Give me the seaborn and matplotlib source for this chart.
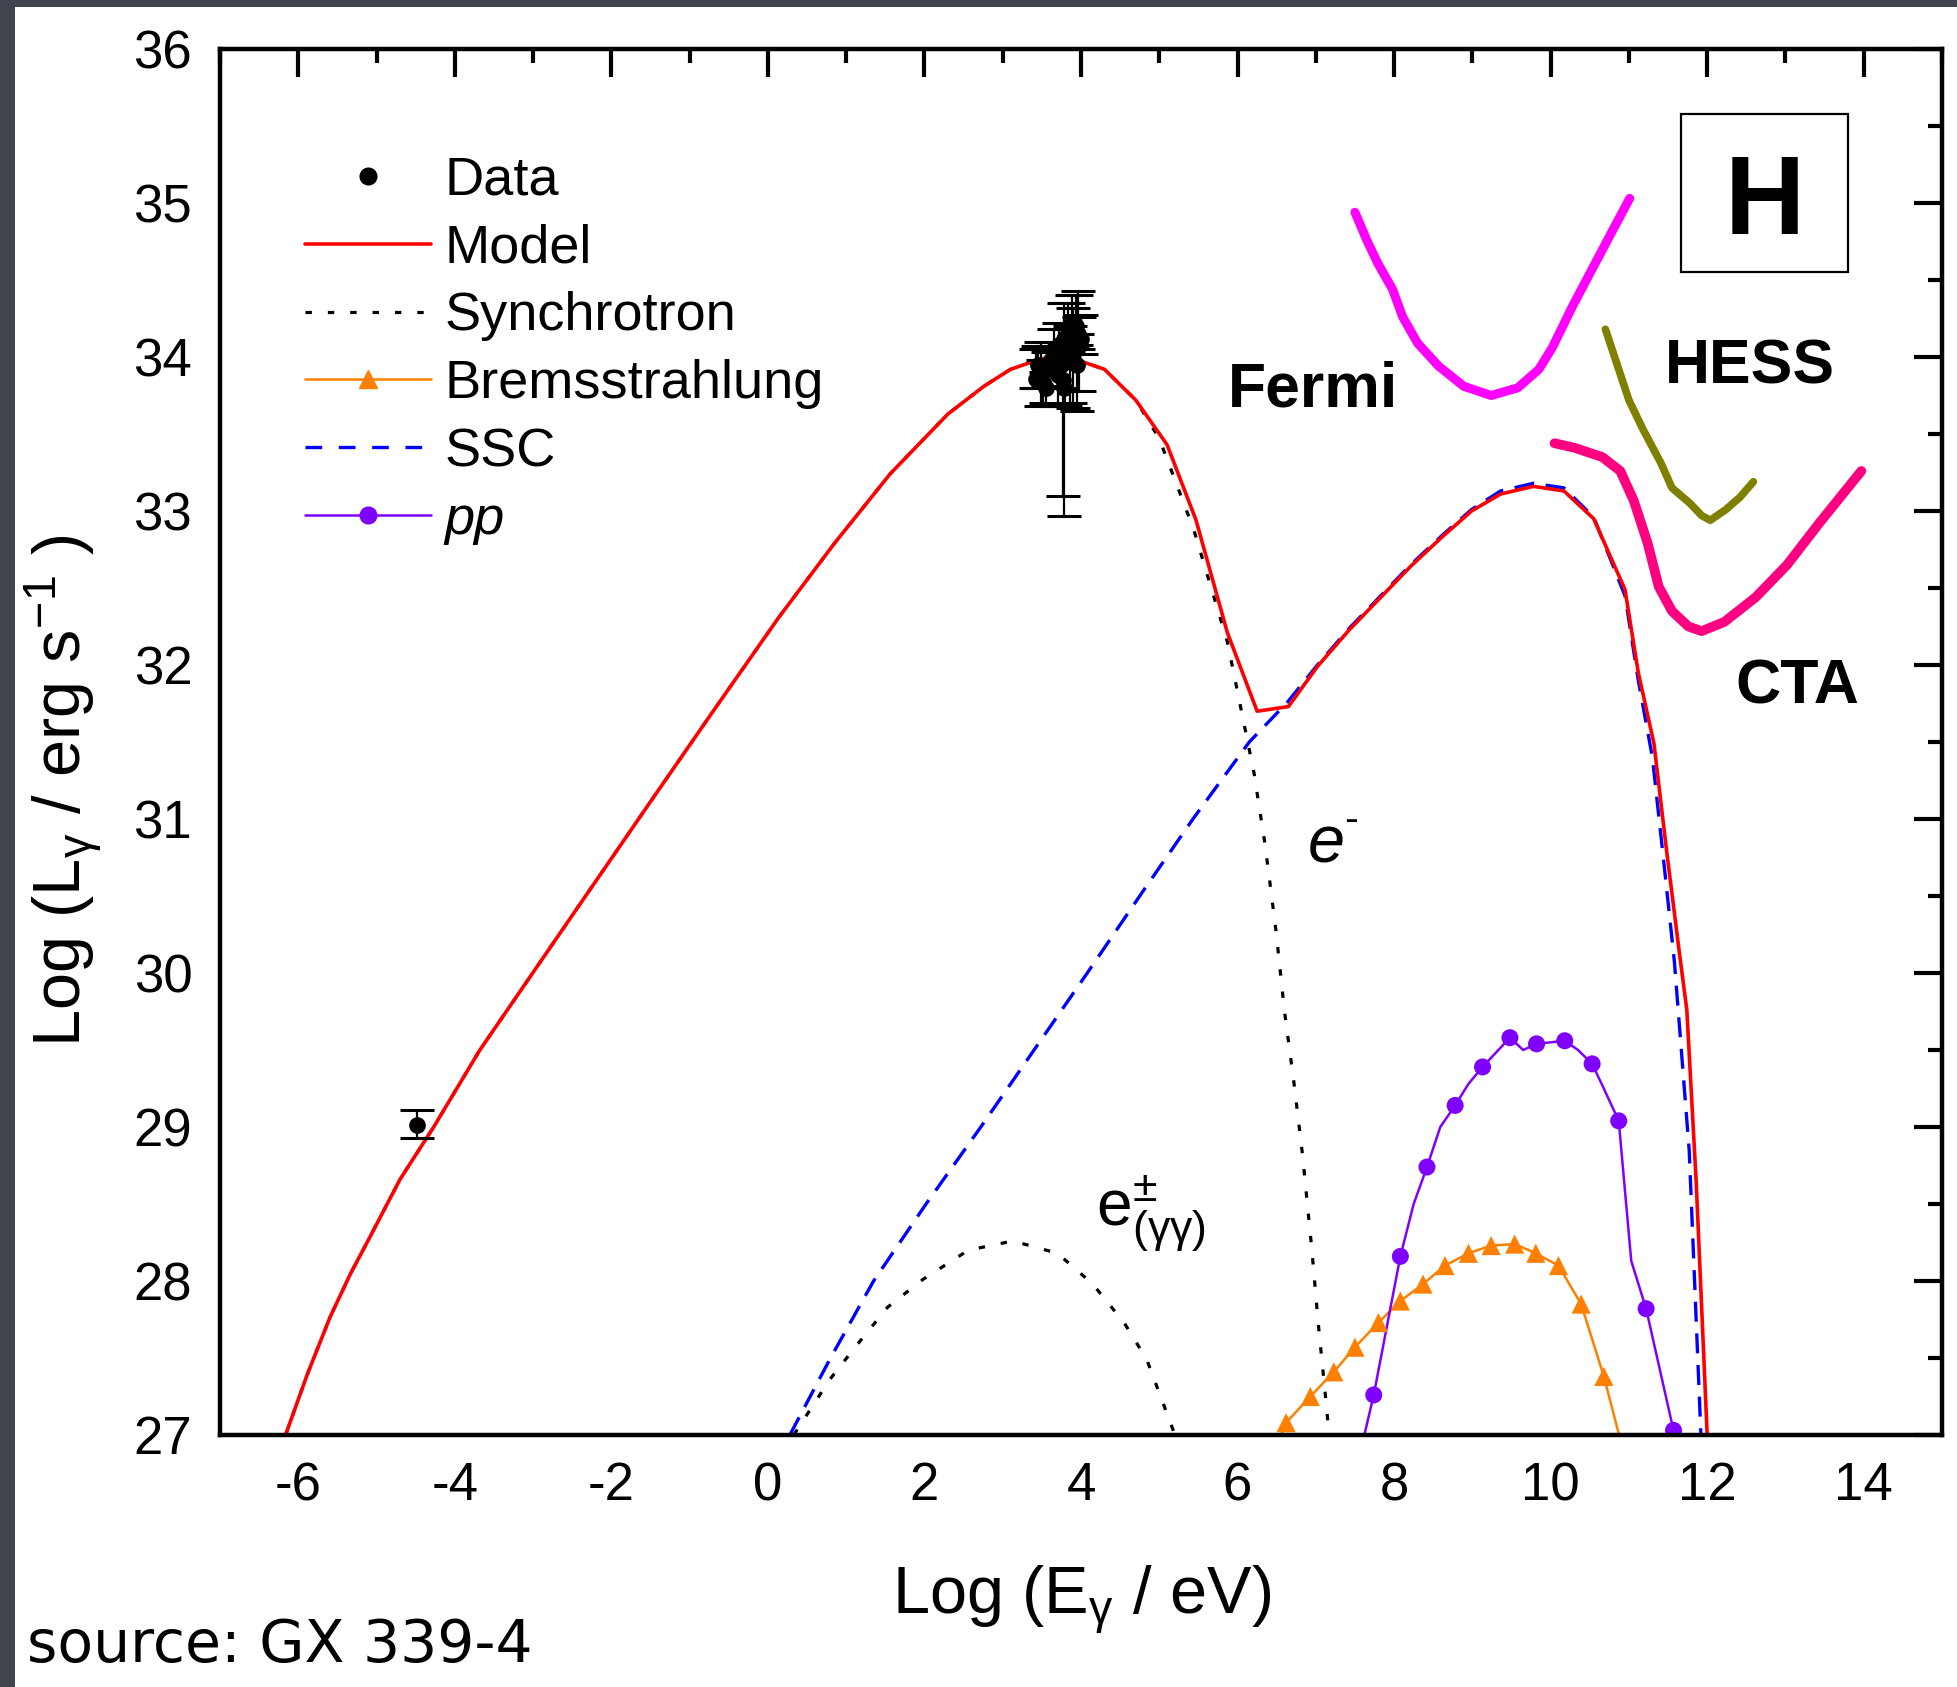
import numpy as np
import pandas as pd
import matplotlib
matplotlib.use("Agg")
import matplotlib.pyplot as plt
import seaborn as sns
from matplotlib.lines import Line2D
from matplotlib.patches import Rectangle
from matplotlib.ticker import MultipleLocator

# ---------------- data ----------------
model_x = [-6.17, -5.88, -5.59, -5.33, -5.08, -4.70, -4.27, -3.68, -2.60, -1.49, -0.70, 0.14, 0.85, 1.56,
           2.30, 2.76, 3.10, 3.50, 3.90, 4.30, 4.70, 5.10, 5.47, 5.87, 6.25, 6.65, 7.02, 7.43, 7.83, 8.21,
           8.61, 8.99, 9.36, 9.78, 10.17, 10.55, 10.95, 11.12, 11.32, 11.48, 11.64, 11.74, 11.86, 12.00]
model_y = [26.99, 27.40, 27.77, 28.05, 28.29, 28.66, 29.00, 29.50, 30.30, 31.12, 31.70, 32.31, 32.79, 33.24,
           33.63, 33.81, 33.92, 33.99, 33.99, 33.92, 33.72, 33.43, 32.94, 32.21, 31.70, 31.73, 31.99, 32.23,
           32.44, 32.64, 32.83, 33.00, 33.11, 33.16, 33.13, 32.95, 32.49, 31.95, 31.49, 30.80, 30.15, 29.76,
           28.64, 27.00]

sync_x = [-6.17, -5.88, -5.59, -5.33, -5.08, -4.70, -4.27, -3.68, -2.60, -1.49, -0.70, 0.14, 0.85, 1.56,
          2.30, 2.76, 3.10, 3.50, 3.90, 4.30, 4.70, 5.00, 5.44, 5.87, 6.07, 6.21, 6.35, 6.49, 6.60, 6.72,
          6.83, 6.95, 7.03, 7.12, 7.17]
sync_y = [26.99, 27.40, 27.77, 28.05, 28.29, 28.66, 29.00, 29.50, 30.30, 31.12, 31.70, 32.31, 32.79, 33.24,
          33.63, 33.81, 33.92, 33.99, 33.99, 33.92, 33.72, 33.47, 32.88, 32.15, 31.65, 31.30, 30.84, 30.28,
          29.75, 29.29, 28.82, 28.20, 27.73, 27.27, 27.00]

pair_x = [0.33, 0.79, 1.13, 1.53, 1.98, 2.56, 3.13, 3.70, 4.15, 4.55, 4.84, 5.12, 5.20]
pair_y = [27.00, 27.36, 27.58, 27.83, 28.01, 28.20, 28.26, 28.18, 27.98, 27.73, 27.49, 27.11, 27.00]

ssc_x = [0.28, 0.80, 1.35, 2.02, 2.72, 3.40, 4.08, 4.75, 5.43, 6.15, 6.64, 7.02, 7.43, 7.83, 8.21, 8.61,
         8.99, 9.36, 9.78, 10.17, 10.55, 10.95, 11.12, 11.30, 11.45, 11.58, 11.77, 11.92]
ssc_y = [27.00, 27.50, 28.00, 28.50, 29.00, 29.50, 30.00, 30.50, 31.00, 31.50, 31.76, 32.00, 32.24, 32.45,
         32.65, 32.84, 33.01, 33.13, 33.18, 33.15, 32.96, 32.45, 31.90, 31.40, 30.70, 30.08, 28.85, 27.00]

brems_x = [6.62, 6.93, 7.23, 7.50, 7.80, 8.08, 8.37, 8.65, 8.95, 9.24, 9.54, 9.81, 10.10, 10.39, 10.68]
brems_y = [27.08, 27.25, 27.41, 27.57, 27.73, 27.87, 27.98, 28.10, 28.18, 28.23, 28.24, 28.18, 28.10, 27.85, 27.38]
brems_line_x = [6.55] + brems_x + [10.90]
brems_line_y = [26.99] + brems_y + [26.95]

pp_x = [7.74, 8.08, 8.42, 8.78, 9.13, 9.48, 9.82, 10.18, 10.53, 10.87, 11.22, 11.57]
pp_y = [27.26, 28.16, 28.74, 29.14, 29.39, 29.58, 29.54, 29.56, 29.41, 29.04, 27.82, 27.03]
pp_line_x = [7.62, 7.74, 8.08, 8.25, 8.42, 8.59, 8.78, 8.95, 9.13, 9.48, 9.65, 9.82, 10.18, 10.35,
             10.53, 10.67, 10.87, 11.03, 11.22, 11.57]
pp_line_y = [27.00, 27.26, 28.16, 28.50, 28.74, 29.00, 29.14, 29.28, 29.39, 29.58, 29.50, 29.54, 29.56, 29.50,
             29.41, 29.26, 29.04, 28.13, 27.82, 27.03]

fermi_x = [7.50, 7.65, 7.79, 7.98, 8.11, 8.30, 8.57, 8.89, 9.24, 9.58, 9.85, 10.02, 10.28, 10.55, 10.79, 11.01]
fermi_y = [34.94, 34.76, 34.61, 34.44, 34.26, 34.09, 33.94, 33.81, 33.75, 33.80, 33.92, 34.06, 34.33, 34.59, 34.82, 35.03]
hess_x = [10.70, 11.00, 11.18, 11.41, 11.55, 11.78, 11.93, 12.04, 12.24, 12.42, 12.59]
hess_y = [34.18, 33.72, 33.53, 33.31, 33.15, 33.05, 32.97, 32.94, 33.01, 33.09, 33.19]
cta_x = [10.05, 10.31, 10.66, 10.89, 11.06, 11.24, 11.38, 11.55, 11.76, 11.93, 12.22, 12.62, 13.02, 13.43, 13.97]
cta_y = [33.44, 33.41, 33.35, 33.26, 33.07, 32.79, 32.51, 32.35, 32.25, 32.22, 32.28, 32.44, 32.65, 32.92, 33.26]

data_x = [-4.48, 3.42, 3.49, 3.45, 3.52, 3.58, 3.62, 3.66, 3.70, 3.72, 3.75, 3.78, 3.80, 3.83, 3.86,
          3.88, 3.90, 3.93, 3.96, 3.98, 4.00, 3.77, 3.78, 3.55, 3.95]
data_y = [29.01, 33.86, 33.90, 33.95, 33.84, 33.93, 33.98, 34.05, 33.88, 34.08, 33.95, 34.12, 33.98, 34.18, 34.05,
          34.22, 34.12, 34.20, 34.15, 34.08, 34.12, 33.85, 33.80, 33.80, 33.95]
data_err_lo = [0.08, 0.06, 0.22, 0.15, 0.16, 0.12, 0.10, 0.12, 0.20, 0.10, 0.15, 0.12, 0.30, 0.15, 0.35,
               0.15, 0.45, 0.12, 0.10, 0.30, 0.10, 0.75, 0.83, 0.10, 0.30]
data_err_hi = [0.10, 0.19, 0.20, 0.12, 0.14, 0.10, 0.12, 0.13, 0.10, 0.14, 0.15, 0.23, 0.20, 0.17, 0.15,
               0.18, 0.20, 0.20, 0.28, 0.18, 0.15, 0.15, 0.15, 0.10, 0.20]

x_ticks = [-6, -4, -2, 0, 2, 4, 6, 8, 10, 12, 14]
y_ticks = [27, 28, 29, 30, 31, 32, 33, 34, 35, 36]

# ---------------- style ----------------
sns.set_theme(style="white")
plt.rcParams["font.family"] = ["Liberation Sans", "DejaVu Sans"]
plt.rcParams["mathtext.fontset"] = "custom"
plt.rcParams["mathtext.rm"] = "Liberation Sans"
plt.rcParams["mathtext.it"] = "Liberation Sans:italic"
plt.rcParams["mathtext.bf"] = "Liberation Sans:bold"
plt.rcParams["axes.unicode_minus"] = False
for key in ["text.color", "axes.labelcolor", "xtick.color", "ytick.color", "axes.edgecolor"]:
    plt.rcParams[key] = "black"

W, H = 1958, 1687
fig = plt.figure(figsize=(W / 100, H / 100), dpi=100, facecolor="#40444e")
fig.add_artist(Rectangle((15 / W, 0), 1, 1 - 7 / H, transform=fig.transFigure,
                         facecolor="white", edgecolor="none", zorder=-10))
ax = fig.add_axes([220 / W, (H - 1435) / H, 1722 / W, 1386 / H])
ax.set_facecolor("white")

# sensitivity curves
sns.lineplot(x=fermi_x, y=fermi_y, ax=ax, sort=False, estimator=None, color="#ff00ff", lw=6.5,
             solid_capstyle="round", zorder=3)
sns.lineplot(x=hess_x, y=hess_y, ax=ax, sort=False, estimator=None, color="#808000", lw=5.5,
             solid_capstyle="round", zorder=3)
sns.lineplot(x=cta_x, y=cta_y, ax=ax, sort=False, estimator=None, color="#ff0080", lw=7,
             solid_capstyle="round", zorder=3)

# model components
dot_style = (0, (2, 5))
dash_style = (0, (6, 3.5))
sns.lineplot(x=pair_x, y=pair_y, ax=ax, sort=False, estimator=None, color="black", lw=2.3,
             linestyle=dot_style, zorder=4)
sns.lineplot(x=sync_x, y=sync_y, ax=ax, sort=False, estimator=None, color="black", lw=2.3,
             linestyle=dot_style, zorder=4)
sns.lineplot(x=ssc_x, y=ssc_y, ax=ax, sort=False, estimator=None, color="#0000ff", lw=2.4,
             linestyle=dash_style, zorder=4)
sns.lineplot(x=brems_line_x, y=brems_line_y, ax=ax, sort=False, estimator=None, color="#ff8000", lw=1.8, zorder=5)
sns.scatterplot(x=brems_x, y=brems_y, ax=ax, marker="^", s=190, color="#ff8000", edgecolor="none", zorder=6)
sns.lineplot(x=pp_line_x, y=pp_line_y, ax=ax, sort=False, estimator=None, color="#8000ff", lw=1.8, zorder=5)
sns.scatterplot(x=pp_x, y=pp_y, ax=ax, marker="o", s=150, color="#8000ff", edgecolor="none", zorder=6)
sns.lineplot(x=model_x, y=model_y, ax=ax, sort=False, estimator=None, color="#ff0000", lw=2.6, zorder=7)

# data
ax.errorbar(data_x, data_y, yerr=[data_err_lo, data_err_hi], fmt="o", color="black", ms=11,
            elinewidth=1.6, capsize=12, capthick=2.2, zorder=8)

ax.set_xlim(-7, 15)
ax.set_ylim(27, 36)
ax.set_xticks(x_ticks)
ax.set_xticklabels([str(t) for t in x_ticks])
ax.set_yticks(y_ticks)
ax.set_yticklabels([str(t) for t in y_ticks])
ax.xaxis.set_minor_locator(MultipleLocator(1))
ax.yaxis.set_minor_locator(MultipleLocator(0.5))
ax.tick_params(which="both", direction="in", top=True, right=True, color="black", width=3)
ax.tick_params(which="major", length=20)
ax.tick_params(which="minor", length=10)
ax.tick_params(axis="x", which="major", labelsize=38, pad=19, labelcolor="black")
ax.tick_params(axis="y", which="major", labelsize=38, pad=20, labelcolor="black")
for sp in ax.spines.values():
    sp.set_color("black")
    sp.set_linewidth(3.2)
    sp.set_zorder(10)

# annotations
ax.text(6.965, 33.677, "Fermi", fontsize=45, fontweight="bold", ha="center", va="baseline", color="black")
ax.text(12.54, 33.829, "HESS", fontsize=45, fontweight="bold", ha="center", va="baseline", color="black")
ax.text(13.15, 31.747, "CTA", fontsize=45, fontweight="bold", ha="center", va="baseline", color="black")
ax.text(12.74, 34.80, "H", fontsize=80, fontweight="bold", ha="center", va="baseline", color="black")
ax.add_patch(Rectangle((0.8484, 0.8393), 0.0973, 0.1138, transform=ax.transAxes,
                       facecolor="none", edgecolor="black", lw=1.6, zorder=9))
ax.text(6.90, 30.716, "e", fontsize=48, style="italic", ha="left", va="baseline", color="black")
ax.text(7.36, 30.99, "-", fontsize=30, ha="left", va="center", color="black")
ax.text(4.197, 28.355, r"$\mathrm{e}^{\pm}_{(\mathrm{\gamma\gamma})}$", fontsize=46, ha="left",
        va="baseline", color="black")

# legend
handles = [
    Line2D([], [], color="black", marker="o", ls="none", ms=12),
    Line2D([], [], color="#ff0000", lw=2.6),
    Line2D([], [], color="black", lw=2.3, ls=dot_style),
    Line2D([], [], color="#ff8000", lw=1.8, marker="^", ms=13),
    Line2D([], [], color="#0000ff", lw=2.4, ls=(0, (5, 5))),
    Line2D([], [], color="#8000ff", lw=1.8, marker="o", ms=12),
]
labels = ["Data", "Model", "Synchrotron", "Bremsstrahlung", "SSC", "pp"]
leg = ax.legend(handles, labels, loc="upper left", bbox_to_anchor=(0.0494, 0.923), frameon=False,
                fontsize=39, handlelength=2.33, handletextpad=0.25, labelspacing=0.33,
                borderpad=0, borderaxespad=0)
for t in leg.get_texts():
    t.set_color("black")
leg.get_texts()[5].set_fontstyle("italic")

# axis labels
fig.text(1082 / W, 1 - 1613 / H, r"Log (E$_\mathrm{\gamma}$ / eV)", fontsize=48, ha="center",
         va="baseline", color="black")
fig.text(82 / W, 1 - 791 / H, r"Log (L$_\mathrm{\gamma}$ / erg s$^{-1}$ )", fontsize=48, rotation=90,
         rotation_mode="anchor", ha="center", va="baseline", color="black")
fig.text(27 / W, 1 - 1662 / H, "source: GX 339-4", fontsize=42, family="DejaVu Sans",
         ha="left", va="baseline", color="black")

fig.savefig("out.png", dpi=100, facecolor=fig.get_facecolor())
